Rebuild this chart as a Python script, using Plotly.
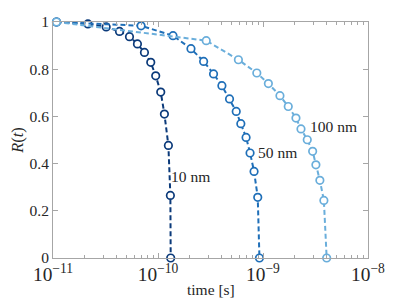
import plotly.graph_objects as go

# time values [s] and R(t) for each particle size
t_10 = [1.08e-11, 2.15e-11, 3.21e-11, 4.30e-11, 5.35e-11, 6.37e-11, 7.43e-11, 8.53e-11,
        9.51e-11, 1.062e-10, 1.151e-10, 1.256e-10, 1.312e-10, 1.321e-10]
r_10 = [1.0, 0.992, 0.979, 0.960, 0.938, 0.907, 0.871, 0.829, 0.772, 0.703, 0.610, 0.477, 0.265, 0.0]

t_50 = [1.08e-11, 6.9e-11, 1.39e-10, 2.06e-10, 2.72e-10, 3.38e-10, 4.06e-10, 4.80e-10,
        5.56e-10, 6.15e-10, 6.90e-10, 7.53e-10, 8.22e-10, 8.91e-10, 9.25e-10]
r_50 = [1.0, 0.984, 0.942, 0.887, 0.833, 0.780, 0.730, 0.674, 0.621, 0.569, 0.511, 0.445,
        0.367, 0.257, 0.0]

t_100 = [1.08e-11, 2.88e-10, 5.83e-10, 8.73e-10, 1.125e-9, 1.45e-9, 1.74e-9, 2.06e-9, 2.30e-9,
         2.64e-9, 2.97e-9, 3.19e-9, 3.48e-9, 3.80e-9, 4.04e-9]
r_100 = [1.0, 0.921, 0.840, 0.784, 0.739, 0.688, 0.642, 0.593, 0.547, 0.501, 0.452, 0.395,
         0.329, 0.244, 0.0]

labels = ["10 nm", "50 nm", "100 nm"]
x_title = "time [s]"
colors = ["#0b3a7a", "#1f6fb8", "#6aaedb"]

fig = go.Figure()
for t, r, c in [(t_10, r_10, colors[0]), (t_50, r_50, colors[1]), (t_100, r_100, colors[2])]:
    fig.add_trace(go.Scatter(
        x=t, y=r, mode="lines+markers", cliponaxis=False,
        line=dict(color=c, width=2, dash="5px,3px"),
        marker=dict(symbol="circle", size=7.5, color="white", line=dict(color=c, width=1.7)),
        showlegend=False))

fnt = dict(family="Liberation Serif, DejaVu Serif, serif", size=15.5, color="#262626")
label_pos = [(-9.88, 0.345), (-9.047, 0.445), (-8.552, 0.557)]
for (lx, ly), txt in zip(label_pos, labels):
    fig.add_annotation(x=lx, y=ly, text=txt, showarrow=False, xanchor="left",
                       yanchor="middle", font=fnt, xshift=-2)

# x-axis title placed just below the tick labels
fig.add_annotation(x=0.5, y=-0.135, xref="paper", yref="paper", text=x_title,
                   showarrow=False, xanchor="center", yanchor="middle", font=fnt)

axis_common = dict(showline=True, linecolor="#a6a6a6", linewidth=1, mirror="allticks",
                   ticks="inside", tickcolor="#a6a6a6", ticklen=5, showgrid=False,
                   zeroline=False, tickfont=fnt, automargin=False)

fig.update_xaxes(type="log", range=[-11, -8], dtick=1, exponentformat="power",
                 minor=dict(ticks="inside", ticklen=3, tickcolor="#a6a6a6", dtick="D1",
                            showgrid=False),
                 **axis_common)
fig.update_yaxes(range=[0, 1], tickvals=[0, 0.2, 0.4, 0.6, 0.8, 1],
                 ticktext=["0", "0.2", "0.4", "0.6", "0.8", "1"],
                 title=dict(text="<i>R</i>(<i>t</i>)", font=dict(fnt, size=16.5), standoff=8),
                 **axis_common)

# page body has an 8px default margin, so the figure is sized to fit the window
fig.update_layout(width=399, height=296, margin=dict(l=45, r=39, t=14, b=46),
                  plot_bgcolor="white", paper_bgcolor="white", font=fnt)

fig.write_html("out.html")
